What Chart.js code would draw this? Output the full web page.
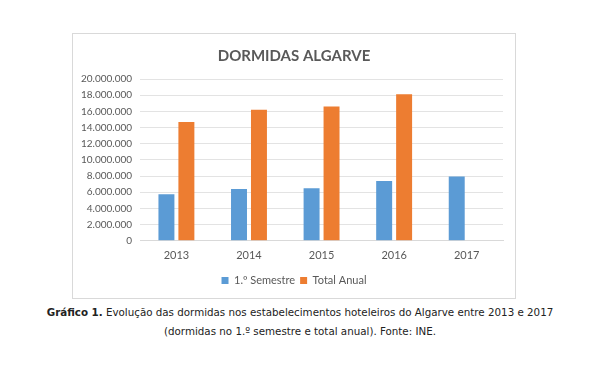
<!DOCTYPE html>
<html>
<head>
<meta charset="utf-8">
<script src="https://cdn.jsdelivr.net/npm/chart.js@4/dist/chart.umd.min.js"></script>
<style>
html,body{margin:0;padding:0;background:#fff;width:600px;height:368px;overflow:hidden;}
#box{position:absolute;left:72px;top:33px;width:442px;height:264px;border:1px solid #d9d9d9;background:#fff;}
#wrap{position:absolute;left:0;top:0;width:454px;height:264px;}
#cap{position:absolute;left:0;top:303px;width:600px;text-align:center;font-family:"DejaVu Sans",Verdana,sans-serif;font-size:10.3px;line-height:19px;color:#222;}
</style>
</head>
<body>
<div id="box"><div id="wrap"><canvas id="c"></canvas></div></div>
<div id="cap"><b>Gráfico 1.</b> Evolução das dormidas nos estabelecimentos hoteleiros do Algarve entre 2013 e 2017<br>(dormidas no 1.º semestre e total anual). Fonte: INE.</div>
<script>
const categories = ["2013","2014","2015","2016","2017"];
const semestre = [5760000, 6400000, 6490000, 7390000, 7960000];
const totalAnual = [14700000, 16200000, 16600000, 18100000, null];
const seriesNames = ["1.º Semestre","Total Anual"];
const chartTitle = "DORMIDAS ALGARVE";

function fmt(v){return String(v).replace(/\B(?=(\d{3})+(?!\d))/g,".");}

new Chart(document.getElementById('c'),{
  type:'bar',
  data:{labels:categories,datasets:[
    {label:seriesNames[0],data:semestre,backgroundColor:'#5b9bd5',barPercentage:0.8,categoryPercentage:0.55},
    {label:seriesNames[1],data:totalAnual,backgroundColor:'#ed7d31',barPercentage:0.8,categoryPercentage:0.55}
  ]},
  options:{
    responsive:true,maintainAspectRatio:false,animation:false,
    layout:{padding:{left:0,right:12,top:10,bottom:2}},
    plugins:{
      title:{display:true,text:chartTitle,color:'#595959',font:{family:'Lato',size:15,weight:'bold'},padding:{top:3,bottom:14}},
      legend:{position:'bottom',labels:{color:'#595959',font:{family:'Lato',size:11},boxWidth:7,boxHeight:7,padding:5}},
      tooltip:{enabled:false}
    },
    scales:{
      x:{grid:{display:false,drawTicks:false},border:{color:'#d9d9d9'},ticks:{color:'#595959',padding:8,font:{family:'Lato',size:11}}},
      y:{min:0,max:20000000,ticks:{stepSize:2000000,autoSkip:false,padding:8,color:'#595959',font:{family:'Lato',size:10},callback:v=>fmt(v)},grid:{color:'#e3e3e3',drawTicks:false},border:{display:false}},
      yspace:{position:'right',display:true,grid:{display:false,drawTicks:false},border:{display:false},ticks:{display:false},afterFit(s){s.width=12;}}
    }
  }
});
</script>
</body>
</html>
